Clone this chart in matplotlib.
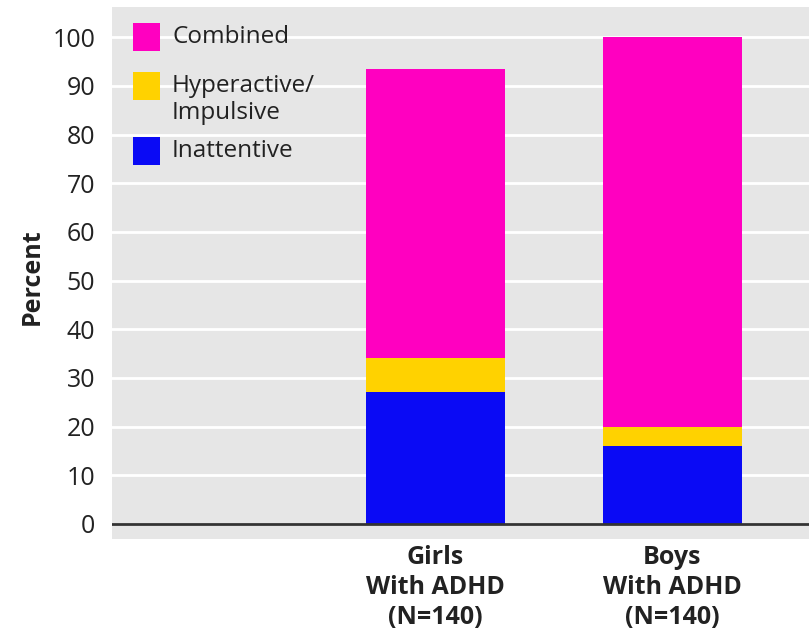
import matplotlib
matplotlib.use("Agg")
import matplotlib.pyplot as plt
from matplotlib.patches import Rectangle
from matplotlib.transforms import blended_transform_factory

# Subtype percentages per group (stacked bottom to top)
groups = ["", "Girls", "Boys"]
group_sub = ["", "With ADHD", "With ADHD"]
group_n = ["", "(N=140)", "(N=140)"]
inattentive = [0, 27, 16]
hyperactive = [0, 7, 4]
combined = [0, 59.4, 80]
yticks = [0, 10, 20, 30, 40, 50, 60, 70, 80, 90, 100]

series = [
    ("Inattentive", inattentive, "#0a0af5"),
    ("Hyperactive/\nImpulsive", hyperactive, "#ffd200"),
    ("Combined", combined, "#ff00c0"),
]

plt.rcParams["font.family"] = ["Open Sans", "DejaVu Sans"]
W, H = 809, 630
TXT = "#222222"
fig = plt.figure(figsize=(W / 100, H / 100), dpi=100)
ax = fig.add_axes([112 / W, 1 - 539 / H, 1 - 112 / W, (539 - 7) / H])
ax.set_facecolor("#e6e6e6")

x = list(range(len(groups)))
bottom = [0] * len(groups)
for name, vals, color in series:
    ax.bar(x, vals, width=0.587, bottom=bottom, color=color, linewidth=0, zorder=3)
    bottom = [b + v for b, v in zip(bottom, vals)]

ax.set_xlim(-0.365, 2.576)
ax.set_ylim(-3.1, 106.2)
ax.set_yticks(yticks)
ax.set_yticklabels([str(t) for t in yticks], fontsize=18, color=TXT)
ax.yaxis.grid(True, color="white", linewidth=2, zorder=1)
ax.axhline(0, color="#333333", linewidth=2, zorder=4)
for s in ax.spines.values():
    s.set_visible(False)
ax.tick_params(axis="y", length=0, pad=12)
ax.set_xticks([])

# Three-line category labels under each bar
tr = blended_transform_factory(ax.transData, fig.transFigure)
for xi, g, sub, n in zip(x, groups, group_sub, group_n):
    if not g:
        continue
    for text, ypix in ((g, 558), (sub, 588), (n, 617)):
        ax.text(xi, 1 - ypix / H, text, transform=tr, ha="center", va="center",
                fontsize=18, fontweight="bold", color=TXT, clip_on=False)

fig.text(32 / W, 1 - 277 / H, "Percent", rotation=90, fontsize=18,
         fontweight="bold", color=TXT, ha="center", va="center")

# Legend in the upper-left corner of the plot area
legend_items = [
    ("Combined", "#ff00c0", 23),
    ("Hyperactive/\nImpulsive", "#ffd200", 72),
    ("Inattentive", "#0a0af5", 137),
]
for label, color, ytop in legend_items:
    fig.add_artist(Rectangle((133 / W, 1 - (ytop + 28) / H), 27 / W, 28 / H,
                             transform=fig.transFigure, color=color, linewidth=0))
    lines = label.split("\n")
    fig.text(172 / W, 1 - (ytop + 14) / H, lines[0], fontsize=17.5,
             color=TXT, va="center", ha="left")
    if len(lines) > 1:
        fig.text(172 / W, 1 - (ytop + 41) / H, lines[1], fontsize=17.5,
                 color=TXT, va="center", ha="left")

fig.savefig("out.png", dpi=100)
